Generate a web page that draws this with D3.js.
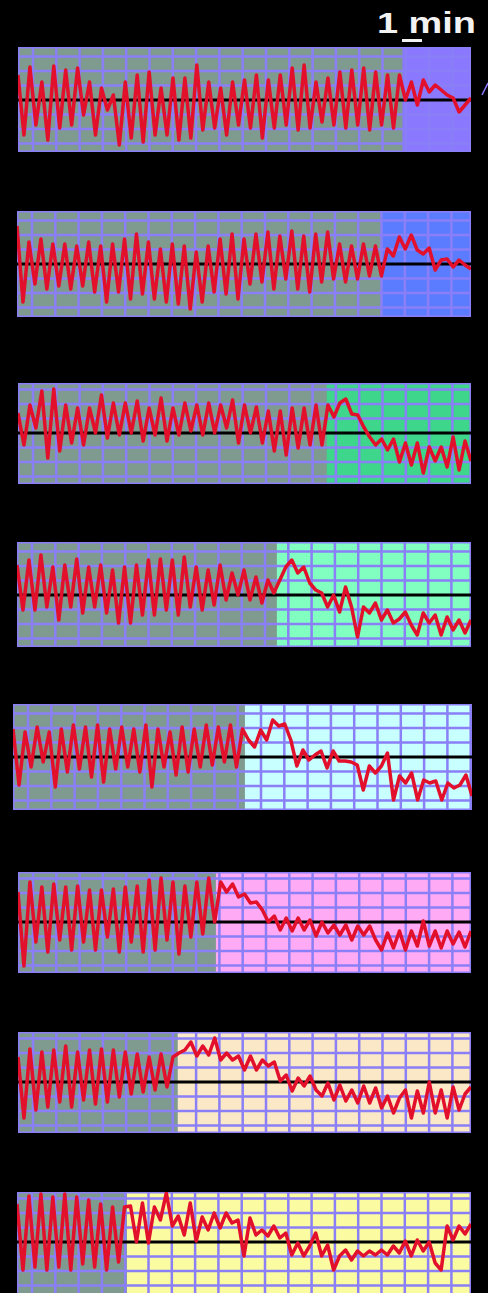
<!DOCTYPE html>
<html>
<head>
<meta charset="utf-8">
<script src="https://cdn.jsdelivr.net/npm/d3@7"></script>
<style>
  html, body { margin: 0; padding: 0; background: #000; }
  svg { display: block; }
</style>
</head>
<body>
<div id="chart"></div>
<script>
// Trace values, pixels above the black baseline, one value per sample (77 samples per strip)
var trace1 = [25, -35, 33, -25, 18, -40, 34, -28, 30, -25, 32, -15, 18, -35, 12, -10, 5, -45, 18, -38,
  25, -42, 28, -35, 12, -35, 22, -40, 22, -38, 35, -30, 18, -28, 12, -35, 18, -25, 20, -28,
  25, -38, 20, -28, 25, -25, 32, -30, 35, -28, 18, -22, 22, -25, 28, -28, 30, -25, 32, -30,
  28, -25, 25, -28, 25, 0, 18, -5, 20, 8, 15, 10, 5, 2, -12, -5, 2];
var trace2 = [38, -38, 22, -20, 25, -25, 20, -22, 20, -25, 18, -22, 22, -28, 18, -38, 20, -28, 25, -35,
  30, -30, 22, -35, 15, -38, 20, -40, 18, -45, 12, -38, 18, -28, 25, -30, 30, -35, 25, -20,
  30, -18, 32, -25, 28, -15, 33, -25, 28, -28, 30, -18, 32, -15, 20, -18, 18, -15, 20, -12,
  18, -12, 15, 8, 27, 15, 29, 14, 10, 16, -6, 4, 5, -3, 4, -1, -5];
var trace3 = [20, -12, 28, 5, 42, -25, 44, -18, 28, -10, 25, -12, 25, 0, 38, -5, 30, -2, 30, 0,
  32, -8, 25, -2, 35, -8, 25, -2, 30, 2, 28, -2, 30, 0, 28, 5, 33, -10, 28, 0,
  26, -10, 22, -18, 22, -22, 25, -15, 25, -12, 28, -12, 28, 16, 30, 34, 19, 18, 6, -4,
  -12, -6, -17, -6, -29, -10, -32, -10, -40, -14, -28, -14, -34, -4, -37, -8, -28];
var trace4 = [30, -15, 35, -15, 40, -12, 28, -25, 30, -12, 36, -18, 28, -12, 30, -18, 25, -28, 28, -28,
  30, -20, 35, -20, 36, -15, 35, -20, 38, -12, 28, -15, 25, -10, 30, -5, 22, 0, 25, -5,
  18, -8, 15, 2, 15, 28, 35, 22, 28, 12, 5, 2, -12, 0, -17, 8, -12, -42, -12, -18,
  -8, -25, -15, -28, -24, -17, -30, -40, -18, -28, -20, -40, -22, -35, -25, -38, -25];
var trace5 = [28, -28, 25, -10, 30, -5, 25, -30, 28, -15, 32, -12, 30, -20, 32, -25, 28, -12, 30, -10,
  28, -15, 32, -30, 28, -10, 25, -18, 30, -15, 28, -10, 32, -8, 30, -5, 32, -10, 28, 17,
  10, 27, 17, 37, 31, 33, 17, -9, 7, -3, 2, 6, -11, 6, -4, -4, -5, -8, -33, -9,
  -16, -9, 4, -43, -19, -26, -16, -43, -23, -26, -24, -43, -26, -31, -28, -18, -39];
var trace6 = [30, -44, 40, -20, 35, -30, 38, -18, 35, -28, 36, -20, 32, -28, 32, -15, 33, -30, 35, -20,
  36, -30, 42, -28, 44, -18, 40, -32, 36, -15, 40, -12, 44, 0, 40, 30, 38, 25, 28, 19,
  20, 12, 0, 6, -8, 4, -9, 4, -8, 2, -14, 0, -11, -3, -13, -3, -18, -4, -13, -4,
  -18, -28, -11, -26, -9, -28, -9, -24, 1, -24, -9, -26, -9, -22, -10, -25, -9];
var trace7 = [25, -36, 33, -28, 30, -25, 32, -20, 36, -25, 30, -18, 32, -22, 33, -20, 32, -15, 30, -12,
  28, -10, 25, -8, 28, -5, 25, 29, 32, 40, 26, 36, 27, 44, 22, 29, 22, 26, 12, 26,
  12, 22, 16, 20, 1, 7, -9, 4, -4, 6, -8, -14, -1, -18, -3, -19, -8, -21, -4, -21,
  -6, -26, -14, -31, -16, -8, -36, -9, -31, 0, -31, -8, -36, -5, -28, -12, -5];
var trace8 = [38, -28, 46, -25, 48, -28, 45, -25, 48, -28, 45, -22, 42, -25, 38, -28, 35, -20, 35, 36,
  0, 39, -1, 35, 22, 49, 16, 26, 7, 39, 1, 25, 12, 29, 14, 29, 19, 22, -14, 24,
  7, 12, 6, 16, 4, 9, -13, -1, -14, -4, 9, -14, -3, -28, -14, -8, -18, -9, -14, -9,
  -13, -8, -13, -4, -11, 1, -14, 2, -9, 0, -21, -28, 16, 2, 16, 8, 18];

var traces = [trace1, trace2, trace3, trace4, trace5, trace6, trace7, trace8];

// Sample index where the grey period ends and the coloured period starts
var switchAt = [64.5, 61, 51.8, 43.5, 38.4, 33.2, 26.8, 18.4];

// Horizontal grid levels (pixels above baseline)
var gridLevels = [-43.5, -29, -14.5, 14.5, 29, 43.5];

// Layout of each strip (pixel boxes), kept apart from the data
var stripBoxes = [
  {top: 47, bottom: 152, left: 18, right: 471, base: 100},
  {top: 211, bottom: 317, left: 17, right: 471, base: 264},
  {top: 383, bottom: 484, left: 18, right: 471, base: 433},
  {top: 542, bottom: 647, left: 17, right: 471, base: 595},
  {top: 704, bottom: 810, left: 13, right: 472, base: 757},
  {top: 872, bottom: 973, left: 18, right: 471, base: 922},
  {top: 1032, bottom: 1133, left: 18, right: 471, base: 1082},
  {top: 1192, bottom: 1297, left: 17, right: 471, base: 1242}
];

// Colours of the second period of each strip
var periodColors = ["#8a78ff", "#5c7cff", "#3dd68a", "#80ffc0", "#c8ffff", "#ffaaf4", "#fbe8c6", "#fbfca2"];
var greyColor = "#7f9a8f";
var gridColor = "#8a7ff6";
var traceColor = "#e3102c";

var width = 488, height = 1293;

var svg = d3.select("#chart")
  .append("svg")
  .attr("width", width)
  .attr("height", height)
  .style("background-color", "#000");

traces.forEach(function(trace, i) {
  var box = stripBoxes[i];

  var x = d3.scaleLinear().domain([0, trace.length - 1]).range([box.left, box.right]);
  var y = d3.scaleLinear().domain([-50, 50]).range([box.base + 50, box.base - 50]);

  var clipId = "clip" + i;
  svg.append("clipPath").attr("id", clipId)
    .append("rect")
    .attr("x", box.left).attr("y", box.top)
    .attr("width", box.right - box.left).attr("height", box.bottom - box.top);

  var g = svg.append("g").attr("clip-path", "url(#" + clipId + ")");

  // Coloured background for the whole strip, then the grey first period on top
  g.append("rect")
    .attr("x", box.left).attr("y", box.top)
    .attr("width", box.right - box.left).attr("height", box.bottom - box.top)
    .attr("fill", periodColors[i]);
  g.append("rect")
    .attr("x", box.left).attr("y", box.top)
    .attr("width", x(switchAt[i]) - box.left).attr("height", box.bottom - box.top)
    .attr("fill", greyColor);

  // Grid
  g.selectAll(".vgrid")
    .data(d3.range(box.left + 15, box.right, 23.3))
    .enter().append("line")
    .attr("x1", function(d) { return d; })
    .attr("x2", function(d) { return d; })
    .attr("y1", box.top).attr("y2", box.bottom)
    .attr("stroke", gridColor)
    .attr("stroke-width", 2.5);
  g.selectAll(".hgrid")
    .data(gridLevels)
    .enter().append("line")
    .attr("x1", box.left).attr("x2", box.right)
    .attr("y1", function(d) { return y(d); })
    .attr("y2", function(d) { return y(d); })
    .attr("stroke", gridColor)
    .attr("stroke-width", 2.5);

  // Border
  g.append("rect")
    .attr("x", box.left + 0.75).attr("y", box.top + 0.75)
    .attr("width", box.right - box.left - 1.5).attr("height", box.bottom - box.top - 1.5)
    .attr("fill", "none")
    .attr("stroke", gridColor)
    .attr("stroke-width", 1.5);

  // Black baseline
  g.append("line")
    .attr("x1", box.left).attr("x2", box.right)
    .attr("y1", y(0)).attr("y2", y(0))
    .attr("stroke", "#000")
    .attr("stroke-width", 3);

  // Red trace
  var line = d3.line()
    .x(function(d, k) { return x(k); })
    .y(function(d) { return y(d); });
  g.append("path")
    .datum(trace)
    .attr("d", line)
    .attr("fill", "none")
    .attr("stroke", traceColor)
    .attr("stroke-width", 3.5)
    .attr("stroke-linejoin", "round");
});

// Time scale bar label
svg.append("text")
  .attr("x", 377)
  .attr("y", 33)
  .attr("textLength", 99)
  .attr("lengthAdjust", "spacingAndGlyphs")
  .attr("fill", "#f2f2f2")
  .style("font-family", "'Liberation Sans', Arial, sans-serif")
  .style("font-weight", "bold")
  .style("font-size", "29px")
  .text("1 min");
svg.append("line")
  .attr("x1", 402).attr("x2", 422)
  .attr("y1", 40.5).attr("y2", 40.5)
  .attr("stroke", "#f2f2f2")
  .attr("stroke-width", 3);

// Small marker at the right edge of the first strip
svg.append("line")
  .attr("x1", 482).attr("y1", 95)
  .attr("x2", 488).attr("y2", 83)
  .attr("stroke", "#8a78ff")
  .attr("stroke-width", 1.5);
</script>
</body>
</html>
